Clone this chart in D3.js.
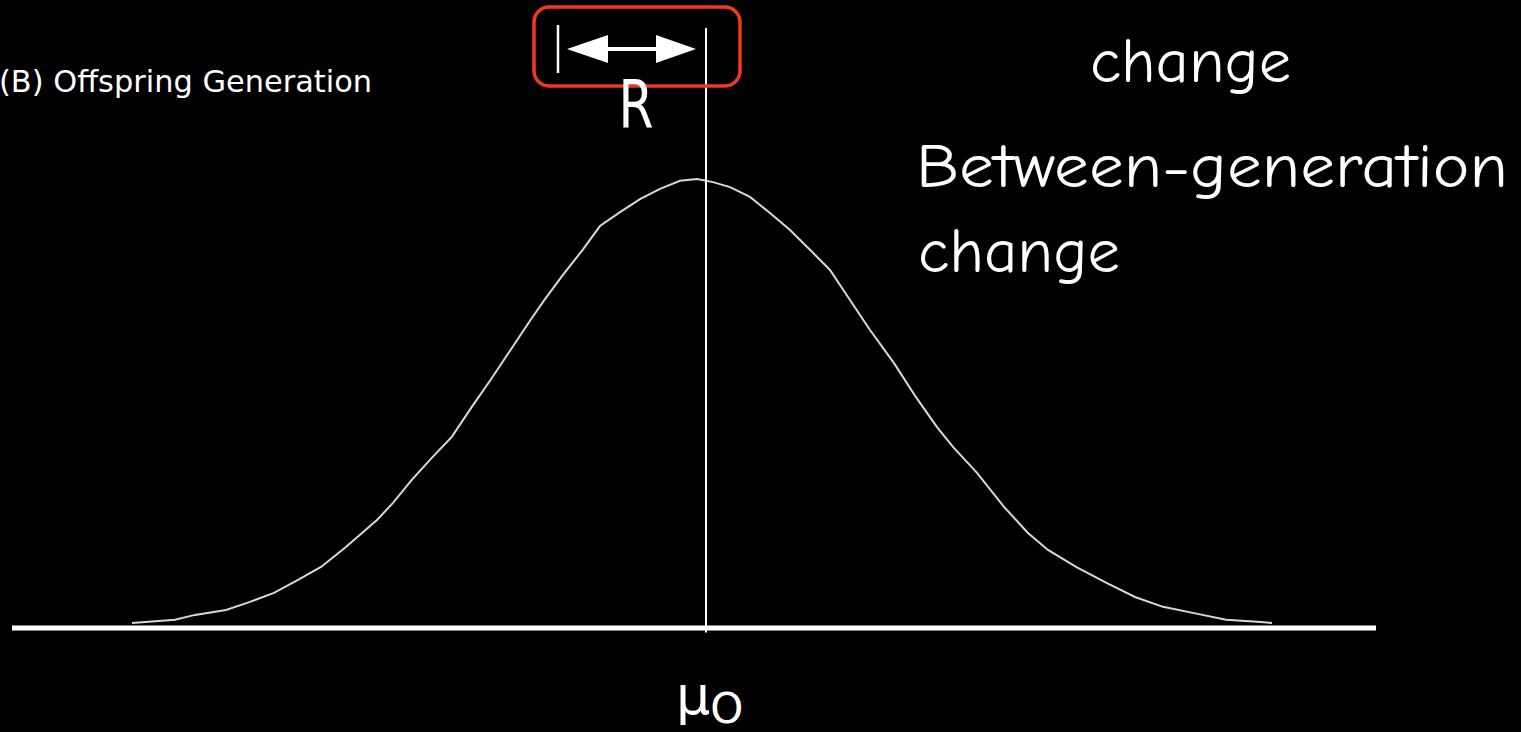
<!DOCTYPE html>
<html>
<head>
<meta charset="utf-8">
<script src="https://cdn.jsdelivr.net/npm/d3@7"></script>
<style>
  html, body { margin: 0; padding: 0; background: #000; overflow: hidden; }
</style>
</head>
<body>
<svg width="1521" height="732"></svg>
<script>
// offspring phenotype distribution (trait in 100px units, mean = 0)
let traits = [-5.74, -5.31, -5.11, -4.80, -4.56, -4.32, -4.08, -3.85, -3.61, -3.29, -3.13,
  -2.94, -2.74, -2.54, -2.34, -2.15, -1.95, -1.75, -1.61, -1.44, -1.23, -1.06, -0.86,
  -0.66, -0.46, -0.26, -0.09, 0.07, 0.24, 0.44, 0.64, 0.84, 1.04, 1.24, 1.44, 1.64,
  1.88, 2.10, 2.31, 2.47, 2.71, 2.98, 3.22, 3.42, 3.70, 4.01, 4.29, 4.57, 4.88, 5.20,
  5.55, 5.66]
let density = [0.009, 0.016, 0.027, 0.038, 0.056, 0.076, 0.105, 0.134, 0.177, 0.239, 0.277,
  0.329, 0.378, 0.425, 0.492, 0.553, 0.620, 0.687, 0.732, 0.783, 0.843, 0.895, 0.926,
  0.955, 0.978, 0.996, 1.0, 0.993, 0.982, 0.960, 0.924, 0.886, 0.842, 0.797, 0.730, 0.663,
  0.589, 0.513, 0.446, 0.402, 0.344, 0.268, 0.210, 0.172, 0.134, 0.098, 0.067, 0.045, 0.031,
  0.016, 0.011, 0.009]

let axisExtent = [-6.94, 6.70]
let offspringMean = 0
let parentMean = -1.48   // left end of the R bracket

let titleLabel = '(B) Offspring Generation'
let responseLabel = 'R'
let changeTop = 'change'
let betweenLines = ['Between-generation', 'change']

let width = 1521
let height = 732

let x = d3.scaleLinear().domain([-7, 7]).range([6, 1406])
let y = d3.scaleLinear().domain([0, 1]).range([627, 179])

let svg = d3.select('svg')
svg.append('rect').attr('width', width).attr('height', height).attr('fill', '#000')

// baseline
svg.append('line')
  .attr('x1', x(axisExtent[0]))
  .attr('x2', x(axisExtent[1]))
  .attr('y1', y(0) + 1)
  .attr('y2', y(0) + 1)
  .attr('stroke', '#fff')
  .attr('stroke-width', 5)

// distribution curve
let line = d3.line()
  .x(d => x(d[0]))
  .y(d => y(d[1]))

svg.append('path')
  .datum(d3.zip(traits, density))
  .attr('d', line)
  .attr('fill', 'none')
  .attr('stroke', '#d8d8d8')
  .attr('stroke-width', 2)

// mean line
svg.append('line')
  .attr('x1', x(offspringMean))
  .attr('x2', x(offspringMean))
  .attr('y1', y(1.337))
  .attr('y2', y(-0.012))
  .attr('stroke', '#fff')
  .attr('stroke-width', 2)

// R bracket
let arrowY = 49
let left = x(parentMean)
let right = x(offspringMean)

svg.append('line')
  .attr('x1', left).attr('x2', left)
  .attr('y1', 25).attr('y2', 73)
  .attr('stroke', '#fff')
  .attr('stroke-width', 2.5)

svg.append('line')
  .attr('x1', left + 40).attr('x2', right - 40)
  .attr('y1', arrowY).attr('y2', arrowY)
  .attr('stroke', '#fff')
  .attr('stroke-width', 4)

let head = (tip, back) => `M${tip},${arrowY} L${back},${arrowY - 14} L${back},${arrowY + 14} Z`
svg.append('path').attr('d', head(left + 9, left + 50)).attr('fill', '#fff')
svg.append('path').attr('d', head(right - 10, right - 50)).attr('fill', '#fff')

svg.append('rect')
  .attr('x', left - 24)
  .attr('y', 7)
  .attr('width', right - left + 58)
  .attr('height', 79)
  .attr('rx', 15)
  .attr('fill', 'none')
  .attr('stroke', '#f03a1c')
  .attr('stroke-width', 3.5)

svg.append('text')
  .attr('x', (left + right) / 2 + 4)
  .attr('y', 127)
  .attr('text-anchor', 'middle')
  .attr('font-family', 'DejaVu Sans, sans-serif')
  .attr('font-size', 66)
  .attr('textLength', 35)
  .attr('lengthAdjust', 'spacingAndGlyphs')
  .attr('fill', '#fff')
  .text(responseLabel)

// title
svg.append('text')
  .attr('x', -1)
  .attr('y', 92)
  .attr('font-family', 'DejaVu Sans, sans-serif')
  .attr('font-size', 31)
  .attr('textLength', 373)
  .attr('lengthAdjust', 'spacingAndGlyphs')
  .attr('fill', '#fff')
  .text(titleLabel)

// μO label
let mu = svg.append('text')
  .attr('x', x(offspringMean) - 30)
  .attr('y', 714)
  .attr('font-family', 'DejaVu Sans, sans-serif')
  .attr('fill', '#fff')
mu.append('tspan').attr('font-size', 54).text('μ')
mu.append('tspan').attr('font-size', 42).attr('dy', 9).text('O')

// comic-style annotations
let hand = "'Comic Sans MS', 'Comic Neue', Lato, sans-serif"
svg.append('text')
  .attr('x', 1090)
  .attr('y', 82)
  .attr('font-family', hand)
  .attr('font-size', 62)
  .attr('textLength', 201)
  .attr('lengthAdjust', 'spacingAndGlyphs')
  .attr('fill', '#fff')
  .text(changeTop)

svg.append('text')
  .attr('x', 916)
  .attr('y', 187)
  .attr('font-family', hand)
  .attr('font-size', 62)
  .attr('textLength', 592)
  .attr('lengthAdjust', 'spacingAndGlyphs')
  .attr('fill', '#fff')
  .text(betweenLines[0])

svg.append('text')
  .attr('x', 918)
  .attr('y', 272)
  .attr('font-family', hand)
  .attr('font-size', 62)
  .attr('textLength', 202)
  .attr('lengthAdjust', 'spacingAndGlyphs')
  .attr('fill', '#fff')
  .text(betweenLines[1])
</script>
</body>
</html>
